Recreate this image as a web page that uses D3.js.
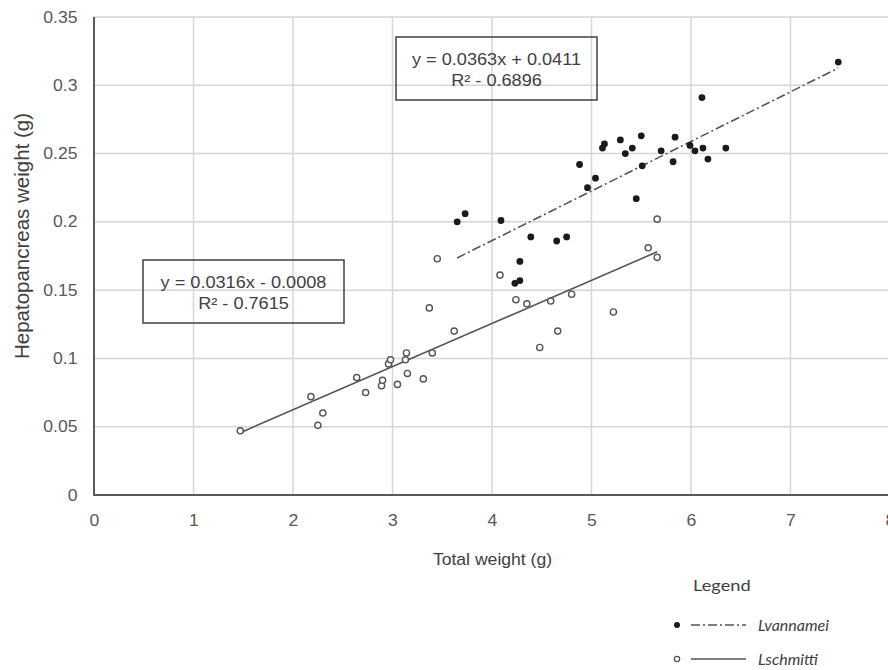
<!DOCTYPE html>
<html>
<head>
<meta charset="utf-8">
<script src="https://cdn.jsdelivr.net/npm/d3@7"></script>
<style>
  html, body { margin: 0; padding: 0; background: #fff; }
  svg { display: block; }
</style>
</head>
<body>
<svg id="chart" width="888" height="670"></svg>
<script>
// Axis ticks
const xTicks = [0, 1, 2, 3, 4, 5, 6, 7, 8];
const yTicks = [0, 0.05, 0.1, 0.15, 0.2, 0.25, 0.3, 0.35];
const yTickLabels = ["0", "0.05", "0.1", "0.15", "0.2", "0.25", "0.3", "0.35"];

// L. vannamei: total weight (g) vs hepatopancreas weight (g)
const vannameiX = [3.65, 3.73, 4.09, 4.39, 4.65, 4.75, 4.28, 4.23, 4.28, 4.88,
                   4.96, 5.04, 5.11, 5.13, 5.29, 5.34, 5.41, 5.45, 5.50, 5.51,
                   5.70, 5.82, 5.84, 5.99, 6.04, 6.12, 6.17, 6.35, 7.48, 6.11];
const vannameiY = [0.200, 0.206, 0.201, 0.189, 0.186, 0.189, 0.171, 0.155, 0.157, 0.242,
                   0.225, 0.232, 0.254, 0.257, 0.260, 0.250, 0.254, 0.217, 0.263, 0.241,
                   0.252, 0.244, 0.262, 0.256, 0.252, 0.254, 0.246, 0.254, 0.317, 0.291];

// L. schmitti
const schmittiX = [1.47, 2.18, 2.25, 2.30, 2.64, 2.73, 2.89, 2.90, 2.96, 2.98,
                   3.05, 3.14, 3.13, 3.15, 3.31, 3.37, 3.40, 3.45, 3.62, 4.08,
                   4.24, 4.35, 4.48, 4.59, 4.66, 4.80, 5.22, 5.57, 5.66, 5.66];
const schmittiY = [0.047, 0.072, 0.051, 0.060, 0.086, 0.075, 0.080, 0.084, 0.096, 0.099,
                   0.081, 0.104, 0.099, 0.089, 0.085, 0.137, 0.104, 0.173, 0.120, 0.161,
                   0.143, 0.140, 0.108, 0.142, 0.120, 0.147, 0.134, 0.181, 0.202, 0.174];

// Linear fits [slope, intercept] and their labels
const vannameiFit = [0.0363, 0.0411];
const schmittiFit = [0.0316, -0.0008];
const vannameiEq = ["y = 0.0363x + 0.0411", "R\u00B2 - 0.6896"];
const schmittiEq = ["y = 0.0316x - 0.0008", "R\u00B2 - 0.7615"];

const legendTitle = "Legend";
const seriesNames = ["Lvannamei", "Lschmitti"];

const svg = d3.select("#chart");
const SX = 1.1;                 // slight horizontal widening of the text
const SANS = "'Liberation Sans', Arial, sans-serif";

const x = d3.scaleLinear().domain([0, 8]).range([94, 890]);
const y = d3.scaleLinear().domain([0, 0.35]).range([495, 17]);

// Grid
const grid = svg.append("g").attr("stroke", "#d6d6d6").attr("stroke-width", 1.5);
grid.selectAll(".gx").data(xTicks.slice(1)).join("line")
  .attr("x1", d => x(d)).attr("x2", d => x(d))
  .attr("y1", y(0.35)).attr("y2", y(0));
grid.selectAll(".gy").data(yTicks.slice(1)).join("line")
  .attr("x1", x(0)).attr("x2", 888)
  .attr("y1", d => y(d)).attr("y2", d => y(d));

// Axes (labels only; lines drawn separately)
const yAxis = svg.append("g").attr("transform", `translate(${x(0)},0)`)
  .call(d3.axisLeft(y).tickValues(yTicks).tickSize(0).tickPadding(15)
        .tickFormat((d, i) => yTickLabels[i]));
const xAxis = svg.append("g").attr("transform", `translate(0,${y(0)})`)
  .call(d3.axisBottom(x).tickValues(xTicks).tickSize(0).tickPadding(20)
        .tickFormat(d3.format("d")));
[yAxis, xAxis].forEach(g => {
  g.select(".domain").remove();
  g.selectAll("text")
    .attr("fill", "#595959")
    .style("font-family", SANS)
    .style("font-size", "16px")
    .attr("transform", `scale(${SX},1)`);
});

svg.append("line").attr("x1", x(0)).attr("x2", x(0)).attr("y1", y(0.35)).attr("y2", y(0) + 1)
  .attr("stroke", "#595959").attr("stroke-width", 2);
svg.append("line").attr("x1", x(0) - 1).attr("x2", 888).attr("y1", y(0)).attr("y2", y(0))
  .attr("stroke", "#595959").attr("stroke-width", 2);

// Text helper with horizontal widening
function label(x0, y0, str, size, opts = {}) {
  return svg.append("text")
    .attr("transform", `translate(${x0},${y0}) scale(${opts.sx ?? SX},1)`)
    .attr("text-anchor", opts.anchor || "middle")
    .attr("fill", opts.fill || "#404040")
    .style("font-family", opts.family || SANS)
    .style("font-size", size + "px")
    .style("font-style", opts.italic ? "italic" : "normal")
    .text(str);
}

// Axis titles
label(492.5, 565, "Total weight (g)", 16, { fill: "#404040" });
svg.append("text")
  .attr("transform", "translate(29,236) rotate(-90)")
  .attr("text-anchor", "middle")
  .attr("fill", "#404040")
  .style("font-family", SANS)
  .style("font-size", "20.5px")
  .text("Hepatopancreas weight (g)");

// Trend lines drawn from the fitted equations over each series' range
function fitLine(xs, fit) {
  const [lo, hi] = d3.extent(xs);
  return [[lo, fit[0] * lo + fit[1]], [hi, fit[0] * hi + fit[1]]];
}
const line = d3.line().x(d => x(d[0])).y(d => y(d[1]));
svg.append("path").attr("d", line(fitLine(schmittiX, schmittiFit)))
  .attr("fill", "none").attr("stroke", "#555").attr("stroke-width", 1.6);
svg.append("path").attr("d", line(fitLine(vannameiX, vannameiFit)))
  .attr("fill", "none").attr("stroke", "#555").attr("stroke-width", 1.6)
  .attr("stroke-dasharray", "9,3,2,3");

// Points
svg.append("g").selectAll("circle").data(d3.range(schmittiX.length)).join("circle")
  .attr("cx", i => x(schmittiX[i])).attr("cy", i => y(schmittiY[i])).attr("r", 3.1)
  .attr("fill", "#fff").attr("stroke", "#555").attr("stroke-width", 1.4);
svg.append("g").selectAll("circle").data(d3.range(vannameiX.length)).join("circle")
  .attr("cx", i => x(vannameiX[i])).attr("cy", i => y(vannameiY[i])).attr("r", 3.4)
  .attr("fill", "#1a1a1a");

// Equation boxes
function eqBox(x0, y0, w, h, lines) {
  svg.append("rect").attr("x", x0).attr("y", y0).attr("width", w).attr("height", h)
    .attr("fill", "none").attr("stroke", "#404040").attr("stroke-width", 1.5);
  label(x0 + w / 2, y0 + 28, lines[0], 16.5);
  label(x0 + w / 2, y0 + 49, lines[1], 16.5);
}
eqBox(396, 37, 201, 63, vannameiEq);
eqBox(143, 260, 201, 63, schmittiEq);

// Legend
const LATO = "Lato, 'Open Sans', sans-serif";
label(693, 591, legendTitle, 16, { anchor: "start", family: LATO, sx: 1.14 });
svg.append("circle").attr("cx", 677).attr("cy", 625).attr("r", 3).attr("fill", "#1a1a1a");
svg.append("line").attr("x1", 691).attr("x2", 746).attr("y1", 625).attr("y2", 625)
  .attr("stroke", "#555").attr("stroke-width", 1.4).attr("stroke-dasharray", "9,3,2,3");
label(758, 631, seriesNames[0], 16, { anchor: "start", family: LATO, italic: true, sx: 1 });
svg.append("circle").attr("cx", 677).attr("cy", 659).attr("r", 2.6)
  .attr("fill", "#fff").attr("stroke", "#555").attr("stroke-width", 1.3);
svg.append("line").attr("x1", 691).attr("x2", 746).attr("y1", 659).attr("y2", 659)
  .attr("stroke", "#555").attr("stroke-width", 1.4);
label(758, 665, seriesNames[1], 16, { anchor: "start", family: LATO, italic: true, sx: 1 });
</script>
</body>
</html>
